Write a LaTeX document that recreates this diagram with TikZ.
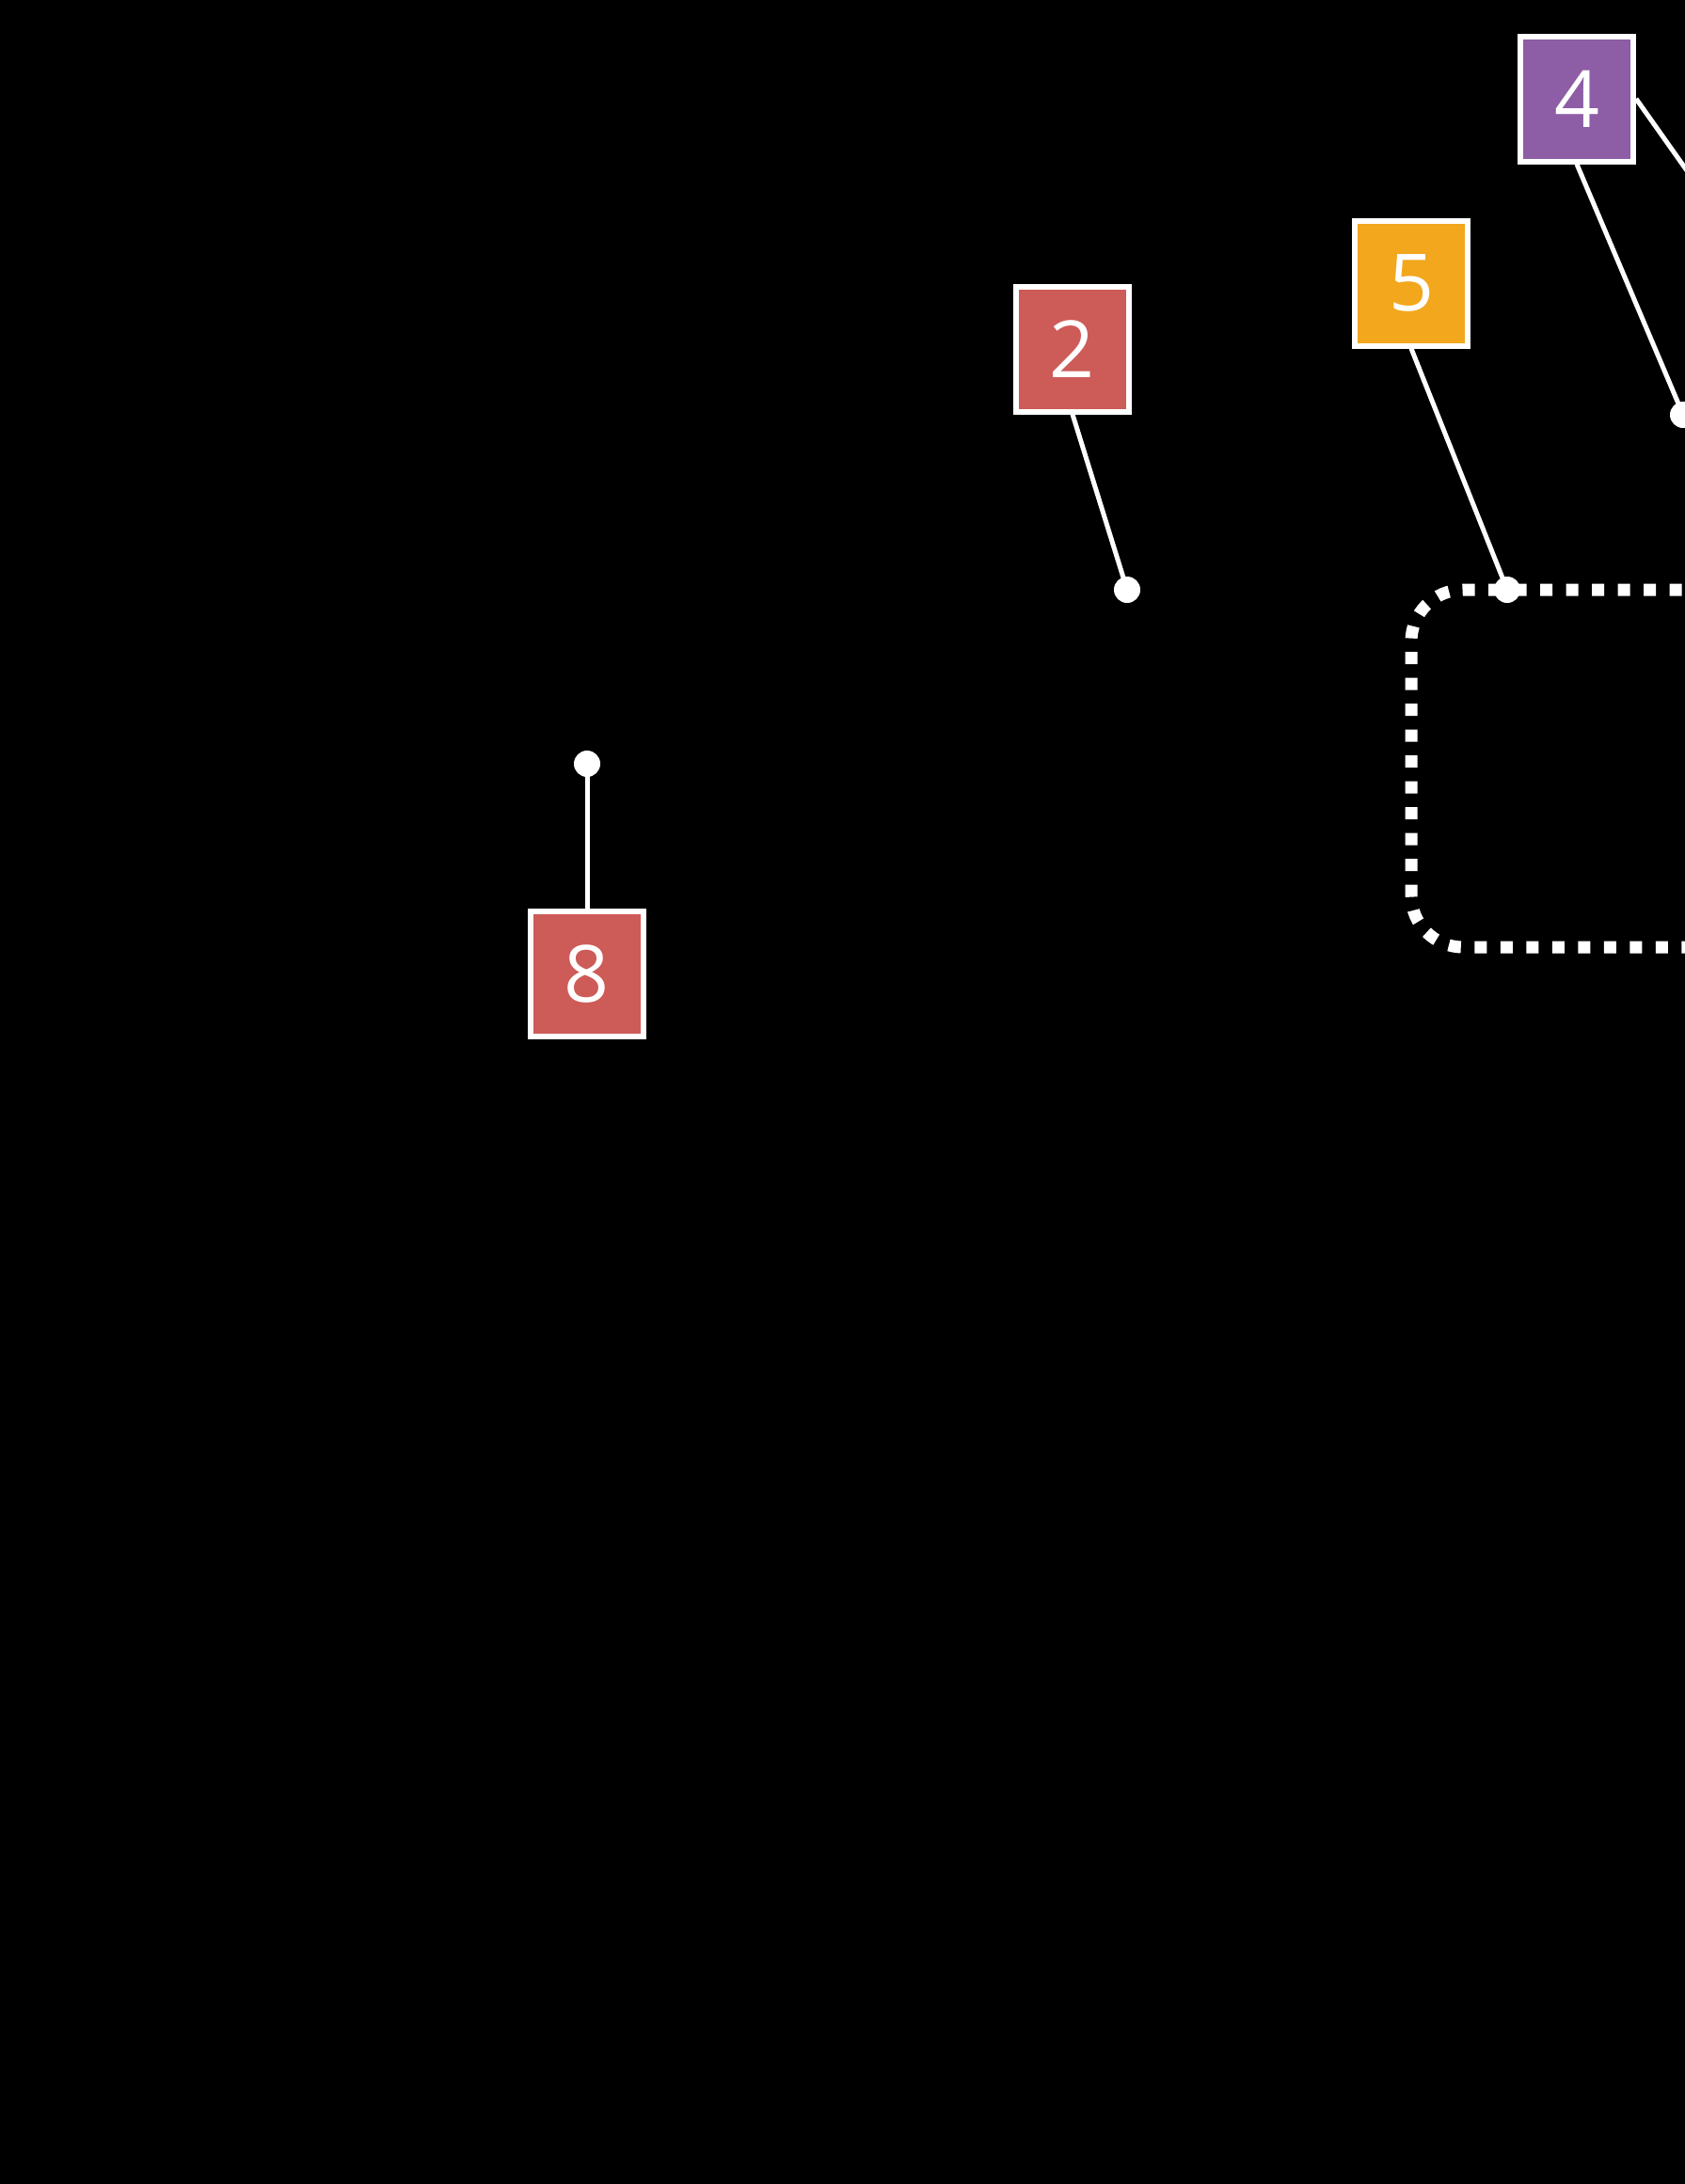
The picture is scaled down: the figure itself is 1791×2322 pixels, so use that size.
\documentclass[tikz,border=0pt]{standalone}
\usepackage{fontspec}
\setmainfont{Open Sans}
\definecolor{tagred}{HTML}{CD5B58}
\definecolor{tagpurple}{HTML}{8D5DA5}
\definecolor{tagorange}{HTML}{F2A71D}
\begin{document}
\begin{tikzpicture}[x=1pt,y=-1pt,
  tagbox/.style={draw=white, line width=6pt, minimum width=120pt, minimum height=133pt,
    inner sep=0pt, text=white, font=\fontsize{84}{84}\selectfont},
  pin/.style={circle, fill=white, inner sep=0pt, minimum size=28pt},
  leader/.style={draw=white, line width=5pt},
  zone/.style={draw=white, line width=13pt, dash pattern=on 13pt off 14.5pt, rounded corners=55pt}]
\useasboundingbox[fill=black] (0,0) rectangle (1791,2322);
\clip (0,0) rectangle (1791,2322);
% dotted zone
\draw[zone] (2200,627) -- (1500,627) -- (1500,1007) -- (2200,1007);
% tags
\node[tagbox, fill=tagpurple] (t4) at (1676,105) {4};
\node[tagbox, fill=tagorange] (t5) at (1500,301) {5};
\node[tagbox, fill=tagred] (t2) at (1140,371) {2};
\node[tagbox, fill=tagred] (t8) at (624,1035) {8};
% pins
\node[pin] (p4) at (1789,441) {};
\node[pin] (p5) at (1602,627) {};
\node[pin] (p2) at (1198,627) {};
\node[pin] (p8) at (624,812) {};
\coordinate (q4) at (1850,262);
% leaders
\draw[leader] (t4.south) -- (p4.center);
\draw[leader] (t4.east) -- (q4);
\draw[leader] (t5.south) -- (p5.center);
\draw[leader] (t2.south) -- (p2.center);
\draw[leader] (t8.north) -- (p8.center);
\end{tikzpicture}
\end{document}
